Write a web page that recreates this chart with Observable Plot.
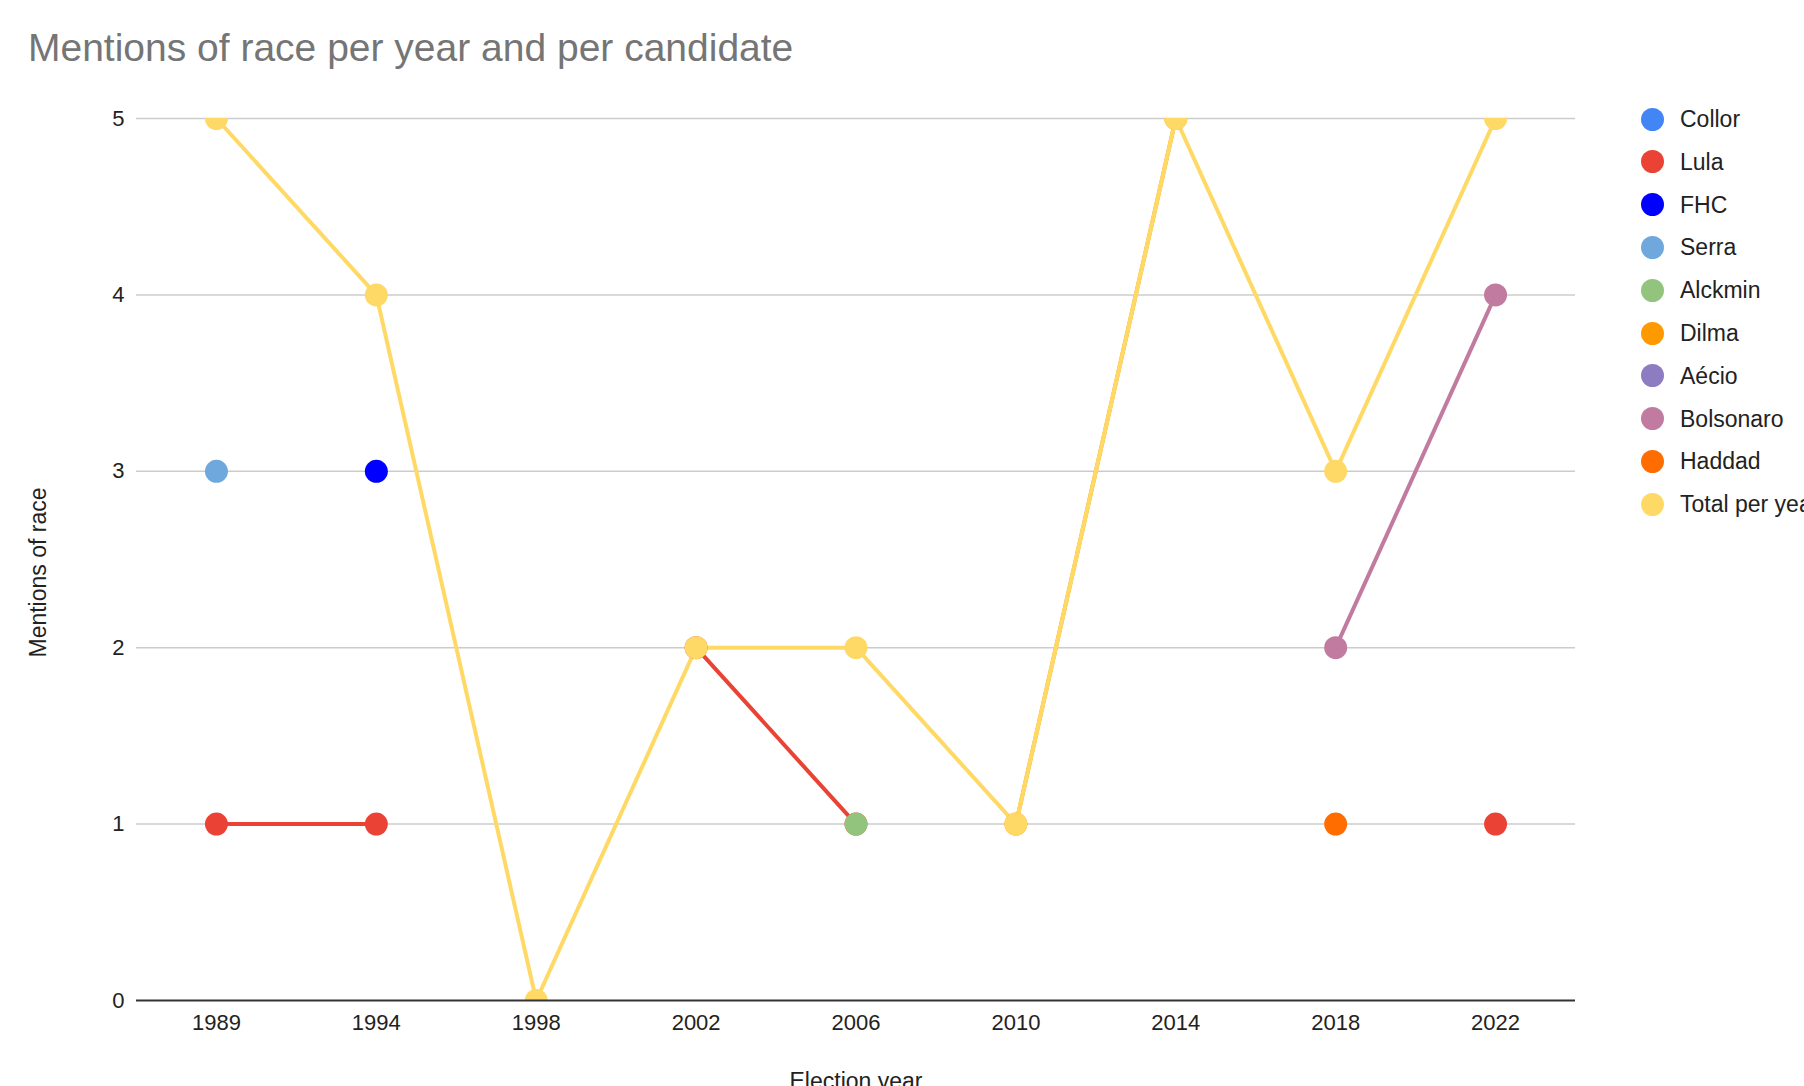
<!DOCTYPE html>
<html>
<head>
<meta charset="utf-8">
<script src="https://cdn.jsdelivr.net/npm/d3@7"></script>
<script src="https://cdn.jsdelivr.net/npm/@observablehq/plot@0.6"></script>
<style>
  html, body { margin: 0; padding: 0; background: #fff; }
  body { width: 1804px; height: 1086px; overflow: hidden; position: relative; font-family: "Liberation Sans", Arial, sans-serif; }
  #title { position: absolute; left: 28px; top: 28px; font-size: 39px; line-height: 39px; color: #757575; white-space: nowrap; }
  #chart { position: absolute; left: 0; top: 80px; }
  #legend { position: absolute; left: 0; top: 0; }
  .item { position: absolute; white-space: nowrap; font-size: 23px; color: #222; line-height: 26px; }
  .sw { position: absolute; width: 23px; height: 23px; border-radius: 50%; }
</style>
</head>
<body>
<div id="title">Mentions of race per year and per candidate</div>
<div id="chart"></div>
<div id="legend"></div>
<script>
const years = ["1989", "1994", "1998", "2002", "2006", "2010", "2014", "2018", "2022"];
const seriesNames = ["Collor", "Lula", "FHC", "Serra", "Alckmin", "Dilma", "Aécio", "Bolsonaro", "Haddad", "Total per year"];
const seriesColors = ["#4285f4", "#ea4335", "#0000ff", "#6fa8dc", "#93c47d", "#ff9900", "#8e7cc3", "#c27ba0", "#ff6d01", "#ffd966"];
const collor    = [null, null, null, null, null, null, null, null, null];
const lula      = [1, 1, null, 2, 1, null, null, null, 1];
const fhc       = [null, 3, null, null, null, null, null, null, null];
const serra     = [3, null, null, null, null, null, null, null, null];
const alckmin   = [null, null, null, null, 1, null, null, null, null];
const dilma     = [null, null, null, null, null, 1, 5, null, null];
const aecio     = [null, null, null, null, null, null, null, null, null];
const bolsonaro = [null, null, null, null, null, null, null, 2, 4];
const haddad    = [null, null, null, null, null, null, null, 1, null];
const total     = [5, 4, 0, 2, 2, 1, 5, 3, 5];
const yTicks = [0, 1, 2, 3, 4, 5];

const seriesValues = [collor, lula, fhc, serra, alckmin, dilma, aecio, bolsonaro, haddad, total];
const data = [];
seriesNames.forEach((name, i) => {
  years.forEach((yr, j) => data.push({series: name, year: yr, value: seriesValues[i][j]}));
});
const dots = data.filter(d => d.value !== null);

const chart = Plot.plot({
  width: 1804,
  height: 1006,
  marginTop: 38,
  marginBottom: 86,
  marginLeft: 136,
  marginRight: 229,
  style: {fontFamily: "'Liberation Sans', Arial, sans-serif", fontSize: "22px", color: "#222", background: "white", overflow: "visible"},
  x: {type: "point", domain: years, padding: 0.5, round: false, label: null, tickSize: 0, tickPadding: 14},
  y: {domain: [0, 5], ticks: yTicks, tickFormat: d => String(d), label: null, tickSize: 0, tickPadding: 12},
  color: {domain: seriesNames, range: seriesColors},
  marks: [
    Plot.ruleY(yTicks.filter(t => t > 0), {stroke: "#cccccc", strokeWidth: 1.5}),
    Plot.line(data, {x: "year", y: "value", z: "series", stroke: "series", strokeWidth: 4, clip: true}),
    Plot.dot(dots, {x: "year", y: "value", fill: "series", r: 11.5, clip: true}),
    Plot.ruleY([0], {stroke: "#333333", strokeWidth: 2}),
    Plot.text(["Election year"], {frameAnchor: "bottom", lineAnchor: "middle", textAnchor: "middle", dy: 81, fontSize: 23, fill: "#222"}),
    Plot.text(["Mentions of race"], {frameAnchor: "left", lineAnchor: "middle", textAnchor: "middle", dx: -98, dy: 13, rotate: -90, fontSize: 23, fill: "#222"})
  ]
});
document.getElementById("chart").appendChild(chart);

const legend = document.getElementById("legend");
seriesNames.forEach((name, i) => {
  const cy = 119 + i * 42.8;
  const sw = document.createElement("div");
  sw.className = "sw";
  sw.style.left = (1652 - 11.5) + "px";
  sw.style.top = (cy - 11.5) + "px";
  sw.style.background = seriesColors[i];
  legend.appendChild(sw);
  const t = document.createElement("div");
  t.className = "item";
  t.style.left = "1680px";
  t.style.top = (cy - 13) + "px";
  t.textContent = name;
  legend.appendChild(t);
});
</script>
</body>
</html>
